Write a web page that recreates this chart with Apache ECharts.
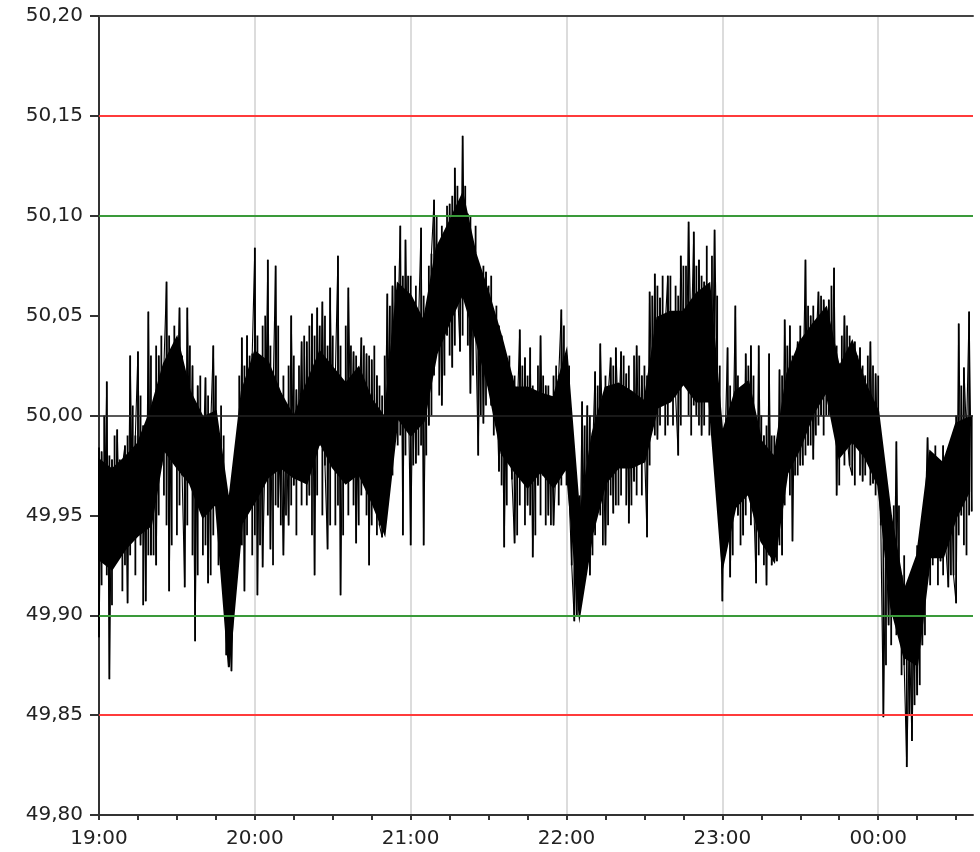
<!DOCTYPE html>
<html>
<head>
<meta charset="utf-8">
<script src="https://cdn.jsdelivr.net/npm/echarts@6/dist/echarts.min.js"></script>
<style>
  html, body { margin: 0; padding: 0; background: #fff; }
  #chart { width: 980px; height: 852px; }
</style>
</head>
<body>
<div id="chart"></div>
<script>
// grid frequency, one swing per minute from 19:00: one end in hNN, the other end in bNN
var startHour = 19;
var h19 = [
  49.889, 49.982, 49.942, 50.017, 49.868, 49.978, 49.935, 49.993, 49.940, 49.975,
  49.985, 49.906, 50.030, 49.945, 49.990, 50.032, 49.935, 49.995, 49.907, 50.052,
  49.930, 50.000, 49.925, 50.030, 49.975, 50.025, 50.067, 49.912, 50.020, 49.980,
  50.010, 50.054, 49.970, 49.914, 50.054, 49.975, 50.025, 49.887, 50.015, 49.960,
  49.975, 50.019, 49.916, 49.995, 50.035, 49.955, 49.990, 49.935, 49.968, 49.880,
  49.930, 49.872, 49.920, 49.965, 49.937, 50.039, 49.912, 50.040, 49.970, 50.031
];
var h20 = [
  50.084, 49.910, 50.020, 49.924, 49.985, 50.078, 49.933, 50.010, 50.075, 49.954,
  49.990, 49.930, 49.995, 49.945, 50.050, 49.965, 50.013, 49.970, 50.037, 49.968,
  50.037, 49.960, 50.051, 49.920, 50.054, 49.985, 50.057, 49.975, 49.933, 50.064,
  49.975, 50.020, 50.080, 49.910, 50.010, 49.970, 50.064, 49.985, 50.032, 49.936,
  50.000, 50.039, 49.970, 50.031, 49.925, 50.028, 49.960, 50.020, 49.945, 49.939,
  49.975, 50.061, 49.985, 50.065, 50.000, 50.040, 50.095, 49.940, 50.088, 50.020
];
var h21 = [
  49.935, 50.030, 49.976, 50.045, 50.094, 49.935, 50.035, 49.995, 50.081, 50.108,
  50.050, 50.076, 50.005, 50.070, 50.040, 50.106, 50.024, 50.124, 50.065, 50.032,
  50.140, 50.060, 50.101, 50.011, 50.085, 50.045, 49.980, 50.070, 49.996, 50.072,
  50.030, 50.005, 50.051, 50.015, 49.972, 50.040, 49.934, 50.020, 49.990, 49.968,
  49.936, 50.000, 50.043, 49.970, 50.029, 49.955, 50.034, 49.929, 49.990, 49.965,
  50.040, 49.970, 50.015, 49.950, 50.000, 49.945, 49.975, 50.020, 50.053, 49.985
];
var h22 = [
  50.030, 49.960, 49.925, 49.897, 49.940, 49.910, 50.007, 49.935, 50.005, 49.920,
  49.980, 50.022, 49.953, 50.036, 49.985, 49.935, 50.010, 50.029, 49.951, 50.034,
  49.995, 50.032, 49.975, 50.021, 49.946, 50.000, 49.967, 50.035, 49.980, 50.020,
  49.985, 49.939, 50.062, 50.000, 50.071, 49.988, 50.059, 50.020, 50.045, 50.070,
  50.012, 50.052, 50.010, 49.980, 50.080, 50.030, 50.015, 50.097, 50.035, 50.092,
  50.000, 50.078, 49.990, 50.067, 50.025, 50.050, 50.000, 50.093, 50.020, 49.975
];
var h23 = [
  49.907, 49.985, 50.034, 49.919, 49.980, 50.055, 49.950, 50.000, 49.940, 50.031,
  49.965, 50.035, 49.960, 49.916, 50.035, 49.945, 49.990, 49.915, 50.031, 49.925,
  49.950, 49.927, 50.023, 49.930, 50.048, 49.985, 50.045, 49.937, 50.020, 50.037,
  49.975, 50.010, 50.078, 49.985, 50.050, 49.978, 50.035, 50.062, 50.000, 50.058,
  50.030, 50.058, 50.010, 50.074, 49.960, 50.026, 49.985, 50.050, 49.990, 49.975,
  49.970, 50.037, 49.990, 50.034, 49.967, 50.020, 49.985, 50.037, 49.966, 50.021
];
var h00 = [
  49.975, 49.945, 49.849, 49.940, 49.895, 49.950, 49.905, 49.987, 49.900, 49.920,
  49.875, 49.824, 49.890, 49.837, 49.905, 49.860, 49.927, 49.885, 49.947, 49.989,
  49.950, 49.972, 49.942, 49.965, 49.927, 49.985, 49.935, 49.914, 49.975, 49.920,
  49.906, 50.046, 49.950, 50.024, 49.990, 50.052, 49.952
];
var b19 = [
  49.984, 49.915, 50.000, 49.920, 49.980, 49.905, 49.990, 49.930, 49.978, 49.912,
  49.925, 49.990, 49.930, 50.005, 49.920, 49.940, 50.010, 49.905, 49.995, 49.930,
  50.030, 49.930, 50.035, 49.950, 50.040, 49.960, 49.945, 50.040, 49.935, 50.045,
  49.940, 49.955, 50.030, 50.020, 49.945, 50.035, 49.930, 50.005, 49.920, 50.020,
  49.930, 49.935, 50.010, 49.920, 49.940, 50.020, 49.925, 50.005, 49.990, 49.950,
  49.960, 49.945, 49.975, 49.930, 50.020, 49.935, 50.025, 49.940, 50.030, 49.930
];
var b20 = [
  49.940, 50.040, 49.935, 50.045, 50.050, 49.950, 50.035, 49.925, 49.955, 50.045,
  49.945, 50.020, 49.950, 50.025, 49.955, 50.030, 49.940, 50.025, 49.955, 50.040,
  49.955, 50.045, 49.940, 50.040, 49.960, 50.045, 49.950, 50.050, 50.035, 49.945,
  50.040, 49.945, 49.955, 50.035, 49.940, 50.045, 49.950, 50.035, 49.955, 50.030,
  49.945, 49.960, 50.035, 49.950, 50.030, 49.945, 50.035, 49.940, 50.015, 50.010,
  50.030, 49.955, 50.055, 49.970, 50.075, 49.985, 49.990, 50.070, 49.980, 50.070
];
var b21 = [
  50.070, 49.975, 50.065, 49.980, 49.985, 50.060, 49.980, 50.075, 50.000, 50.020,
  50.100, 50.010, 50.095, 50.020, 50.105, 50.030, 50.110, 50.035, 50.115, 50.100,
  50.040, 50.115, 50.035, 50.100, 50.020, 50.095, 50.075, 50.000, 50.075, 50.005,
  50.065, 50.070, 49.990, 50.055, 50.045, 49.965, 50.030, 49.955, 50.030, 50.020,
  50.020, 49.940, 49.955, 50.025, 49.945, 50.020, 49.950, 50.015, 49.940, 50.025,
  49.950, 50.020, 49.945, 50.015, 49.945, 50.020, 50.025, 49.955, 49.965, 50.045
];
var b22 = [
  49.965, 50.025, 49.970, 49.945, 49.900, 49.960, 49.930, 49.995, 49.935, 50.000,
  49.930, 49.940, 50.015, 49.950, 49.935, 50.020, 49.945, 49.960, 50.025, 49.955,
  49.955, 49.960, 50.030, 49.955, 50.025, 49.955, 50.030, 49.960, 50.030, 49.960,
  50.025, 50.020, 49.975, 50.060, 49.990, 50.065, 49.995, 50.070, 49.990, 49.995,
  50.070, 49.995, 50.065, 50.060, 49.995, 50.075, 50.075, 50.000, 49.990, 50.005,
  50.075, 49.995, 50.070, 49.995, 50.085, 49.990, 50.080, 50.000, 50.060, 50.025
];
var b23 = [
  49.990, 49.930, 49.945, 50.015, 49.930, 49.955, 50.020, 49.935, 50.015, 49.950,
  50.025, 49.945, 50.020, 49.995, 49.930, 50.000, 49.925, 49.995, 49.930, 49.990,
  49.990, 49.985, 49.935, 50.020, 49.955, 50.035, 49.960, 50.030, 49.970, 49.970,
  50.045, 49.975, 49.980, 50.055, 49.985, 50.055, 49.990, 49.995, 50.060, 49.990,
  50.000, 50.000, 50.065, 49.995, 50.035, 49.965, 50.040, 49.975, 50.045, 50.040,
  50.030, 49.965, 50.030, 49.970, 50.025, 49.970, 50.030, 49.965, 50.025, 49.960
];
var b00 = [
  50.020, 49.990, 49.960, 49.875, 49.950, 49.885, 49.955, 49.890, 49.955, 49.870,
  49.930, 49.915, 49.850, 49.920, 49.855, 49.935, 49.865, 49.940, 49.890, 49.925,
  49.915, 49.925, 49.985, 49.915, 49.975, 49.920, 49.980, 49.970, 49.920, 49.985,
  50.000, 49.940, 50.015, 49.935, 49.930, 49.950, 50.000
];
// dense part of the trace (where the picture is solid black), every 5 minutes
var coreStep = 5;
var coreLo = [
  49.928, 49.923, 49.933, 49.940, 49.945, 49.983, 49.974, 49.966, 49.949, 49.956,
  49.874, 49.946, 49.957, 49.969, 49.974, 49.969, 49.966, 49.987, 49.974, 49.966,
  49.971, 49.957, 49.941, 49.999, 49.990, 49.997, 50.031, 50.047, 50.061, 50.039,
  50.014, 49.981, 49.972, 49.964, 49.972, 49.964, 49.974, 49.900, 49.941, 49.966,
  49.974, 49.974, 49.977, 50.004, 50.007, 50.016, 50.007, 50.007, 49.924, 49.954,
  49.961, 49.937, 49.927, 49.971, 49.984, 50.001, 50.012, 49.979, 49.987, 49.979,
  49.965, 49.904, 49.879, 49.875, 49.929, 49.929, 49.949, 49.962
];
var coreHi = [
  49.978, 49.973, 49.979, 49.986, 50.003, 50.026, 50.039, 50.012, 49.999, 50.002,
  49.956, 50.012, 50.032, 50.027, 50.011, 49.999, 50.016, 50.032, 50.024, 50.016,
  50.024, 50.008, 49.999, 50.066, 50.060, 50.047, 50.084, 50.097, 50.111, 50.081,
  50.061, 50.039, 50.014, 50.014, 50.011, 50.009, 50.032, 49.949, 49.991, 50.014,
  50.016, 50.012, 50.007, 50.049, 50.052, 50.052, 50.061, 50.066, 49.991, 50.012,
  50.017, 49.987, 49.979, 50.021, 50.037, 50.046, 50.054, 50.024, 50.037, 50.016,
  50.002, 49.949, 49.912, 49.930, 49.982, 49.976, 49.996, 49.999
];
var nominal = 50.00;
var limitLines = [50.15, 50.10, 50.00, 49.90, 49.85];

var freq = h19.concat(h20, h21, h22, h23, h00);
var swing = b19.concat(b20, b21, b22, b23, b00);
var chart = echarts.init(document.getElementById('chart'));

function limitColor(v) {
  var d = Math.abs(v - nominal);
  if (d > 0.12) return '#ff3b3b';
  if (d > 0.05) return '#3a9a3a';
  return '#222';
}

var labelStyle = {
  fontFamily: 'DejaVu Sans',
  fontSize: 20,
  color: '#222'
};

var option = {
  backgroundColor: '#ffffff',
  animation: false,
  grid: { left: 99, right: 7, top: 16, bottom: 37 },
  xAxis: [{
    type: 'value',
    min: 0,
    max: 336.5,
    interval: 15,
    axisLine: { lineStyle: { color: '#333', width: 2 } },
    axisTick: { length: 5, lineStyle: { color: '#333', width: 2 } },
    splitLine: { show: false },
    axisLabel: Object.assign({
      margin: 14,
      showMaxLabel: false,
      formatter: function (v) {
        if (v % 60 !== 0) return '';
        var h = (startHour + v / 60) % 24;
        return (h < 10 ? '0' : '') + h + ':00';
      }
    }, labelStyle)
  }, {
    type: 'value',
    position: 'top',
    min: 0,
    max: 336.5,
    interval: 60,
    axisLine: { show: true, lineStyle: { color: '#444', width: 2 } },
    axisTick: { show: false },
    axisLabel: { show: false },
    splitLine: {
      show: true,
      showMinLine: false,
      showMaxLine: false,
      lineStyle: { color: '#dcdcdc', width: 2 }
    }
  }],
  yAxis: {
    type: 'value',
    min: 49.8,
    max: 50.2,
    interval: 0.05,
    axisLine: { show: true, lineStyle: { color: '#333', width: 2 } },
    axisTick: { show: true, length: 9, lineStyle: { color: '#333', width: 2 } },
    splitLine: { show: false },
    axisLabel: Object.assign({
      margin: 16,
      formatter: function (v) { return v.toFixed(2).replace('.', ','); }
    }, labelStyle)
  },
  series: [{
    name: 'limits',
    type: 'line',
    z: 1,
    data: [],
    markLine: {
      silent: true,
      symbol: 'none',
      label: { show: false },
      data: limitLines.map(function (v) {
        return {
          yAxis: v,
          lineStyle: { type: 'solid', color: limitColor(v), width: v === nominal ? 1.5 : 2 }
        };
      })
    }
  }, {
    // solid band between coreLo and coreHi
    name: 'core',
    type: 'custom',
    z: 2,
    silent: true,
    data: [[0, nominal]],
    renderItem: function (params, api) {
      var pts = [];
      var i;
      for (i = 0; i < coreHi.length; i++) {
        pts.push(api.coord([i * coreStep, coreHi[i]]));
      }
      for (i = coreLo.length - 1; i >= 0; i--) {
        pts.push(api.coord([i * coreStep, coreLo[i]]));
      }
      return {
        type: 'polygon',
        shape: { points: pts },
        style: { fill: '#000', stroke: '#000', lineWidth: 2 }
      };
    }
  }, {
    name: 'trace',
    type: 'line',
    z: 2,
    showSymbol: false,
    sampling: null,
    lineStyle: { color: '#000', width: 1.1 },
    data: freq.map(function (v, i) { return [i, v]; })
  }, {
    // each minute as a vertical stroke from one end of its swing to the other
    name: 'frequency',
    type: 'custom',
    z: 3,
    silent: true,
    data: freq.map(function (v, i) { return [i, v, swing[i]]; }),
    renderItem: function (params, api) {
      var a = api.coord([api.value(0), api.value(1)]);
      var b = api.coord([api.value(0), api.value(2)]);
      return {
        type: 'line',
        shape: { x1: a[0], y1: a[1], x2: b[0], y2: b[1] },
        style: { stroke: '#000', lineWidth: 1.8 }
      };
    }
  }]
};
chart.setOption(option);
</script>
</body>
</html>
